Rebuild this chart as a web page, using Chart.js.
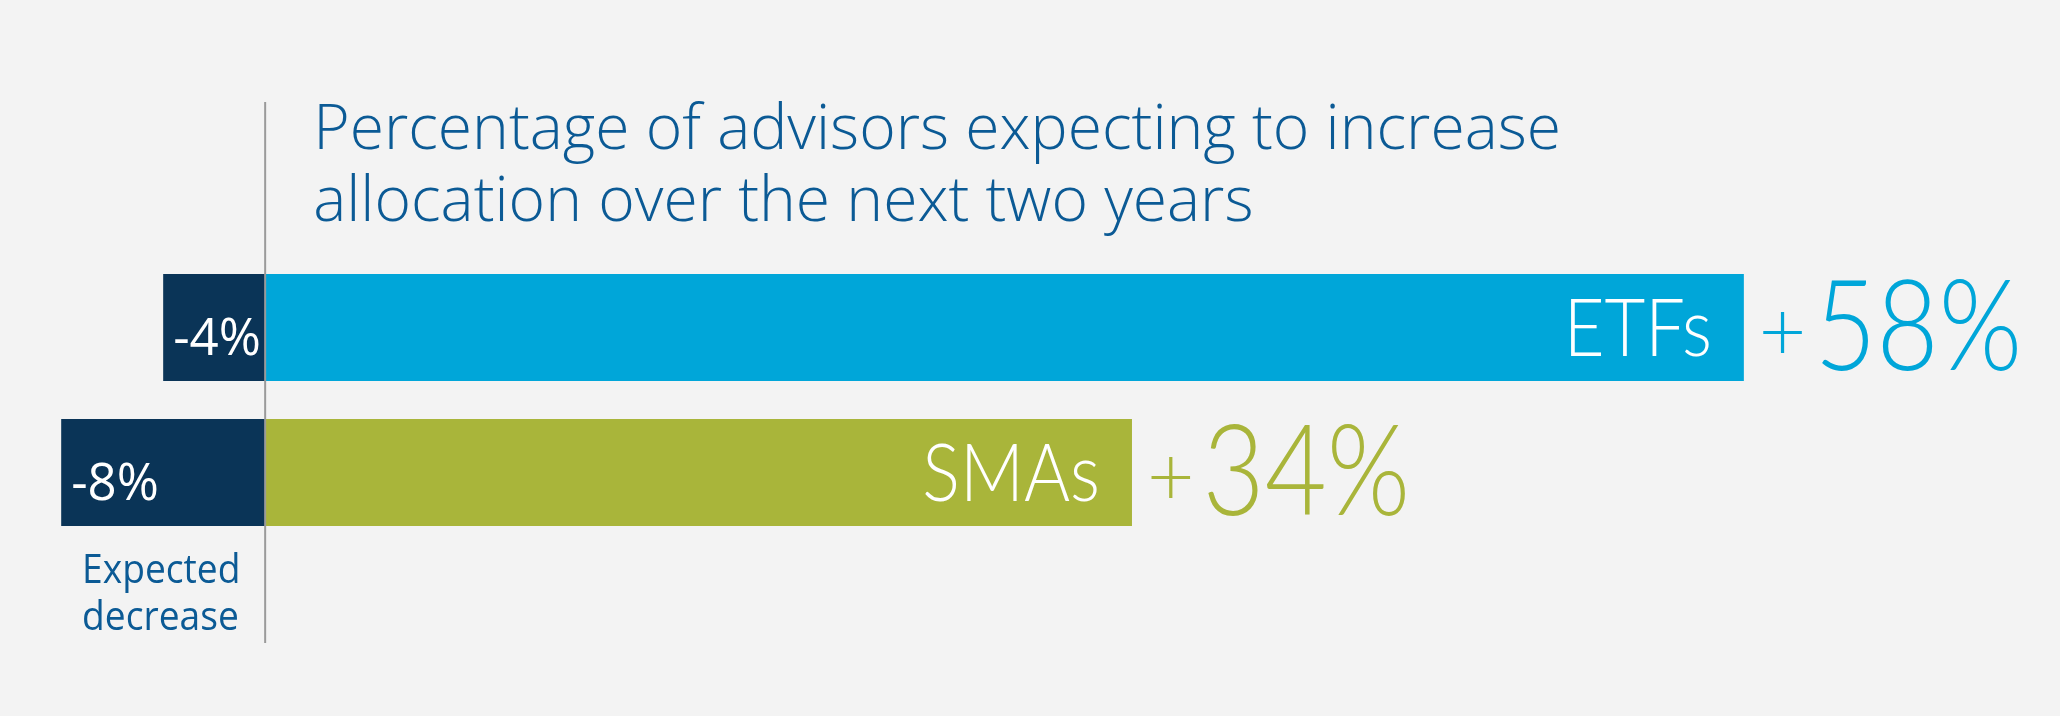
<!DOCTYPE html>
<html lang="en">
<head>
    <meta charset="UTF-8">
    <title>Advisor allocation expectations</title>
    <style>
        html, body { margin: 0; padding: 0; background: #f3f3f3; }
        #wrap { width: 2060px; height: 716px; }
    </style>
</head>
<body>
    <div id="wrap"><canvas id="myChart" width="2060" height="716"></canvas></div>

    <script src="https://cdn.jsdelivr.net/npm/chart.js@4.4.1/dist/chart.umd.min.js"></script>
    <script>
        // chart data
        var categories = ['ETFs', 'SMAs'];
        var increaseValues = [58, 34];
        var decreaseValues = [-4, -8];
        var increaseColors = ['#00a6d9', '#a9b53a'];
        var decreaseColor = '#0a3457';
        var titleLines = ['Percentage of advisors expecting to increase', 'allocation over the next two years'];
        var decreaseNote = ['Expected', 'decrease'];

        var titleBlue = '#0b5a95';
        var humanist = '"Open Sans", "Noto Sans", sans-serif';
        var geometric = 'Lato, "Open Sans", sans-serif';

        // draw text squeezed horizontally by sx
        function drawText(ctx, str, x, y, font, color, align, sx) {
            ctx.save();
            ctx.font = font;
            ctx.fillStyle = color;
            ctx.textAlign = align;
            ctx.textBaseline = 'alphabetic';
            ctx.translate(x, y);
            ctx.scale(sx, 1);
            ctx.fillText(str, 0, 0);
            ctx.restore();
        }

        function textWidth(ctx, str, font, sx) {
            ctx.save();
            ctx.font = font;
            var w = ctx.measureText(str).width * sx;
            ctx.restore();
            return w;
        }

        var background = {
            id: 'background',
            beforeDraw: function (chart) {
                var ctx = chart.ctx;
                ctx.save();
                ctx.fillStyle = '#f3f3f3';
                ctx.fillRect(0, 0, chart.width, chart.height);
                ctx.restore();
            }
        };

        var annotations = {
            id: 'annotations',
            afterDatasetsDraw: function (chart) {
                var ctx = chart.ctx;
                var zeroX = chart.scales.x.getPixelForValue(0);

                // zero line
                ctx.save();
                ctx.strokeStyle = '#9a9a9a';
                ctx.lineWidth = 2;
                ctx.beginPath();
                ctx.moveTo(zeroX, 102);
                ctx.lineTo(zeroX, 643);
                ctx.stroke();
                ctx.restore();

                // title
                titleLines.forEach(function (line, i) {
                    drawText(ctx, line, zeroX + 48, 149 + i * 72, '300 63px ' + humanist, titleBlue, 'left', 0.99);
                });

                // note under the decrease bars
                decreaseNote.forEach(function (line, i) {
                    drawText(ctx, line, 82, 583 + i * 47, '400 40px ' + humanist, titleBlue, 'left', 0.93);
                });

                var decMeta = chart.getDatasetMeta(0);
                var incMeta = chart.getDatasetMeta(1);

                decMeta.data.forEach(function (bar, i) {
                    var left = Math.min(bar.x, bar.base);
                    drawText(ctx, decreaseValues[i] + '%', left + 10, bar.y + 27, '400 51px ' + humanist, '#ffffff', 'left', 1);
                });

                incMeta.data.forEach(function (bar, i) {
                    var right = Math.max(bar.x, bar.base);
                    drawText(ctx, categories[i], right - 32, bar.y + 28, '300 80px ' + geometric, '#ffffff', 'right', 0.88);

                    var plusFont = '300 82px ' + geometric;
                    var plusX = right + 15;
                    drawText(ctx, '+', plusX, bar.y + 32, plusFont, increaseColors[i], 'left', 1);
                    var numX = plusX + textWidth(ctx, '+', plusFont, 1) + 8;
                    drawText(ctx, increaseValues[i] + '%', numX, bar.y + 42, '300 126px ' + geometric, increaseColors[i], 'left', 0.85);
                });
            }
        };

        var ctx = document.getElementById('myChart').getContext('2d');
        var myChart = new Chart(ctx, {
            type: 'bar',
            data: {
                labels: categories,
                datasets: [
                    {
                        label: 'Expected decrease',
                        data: decreaseValues,
                        backgroundColor: decreaseColor
                    },
                    {
                        label: 'Expected increase',
                        data: increaseValues,
                        backgroundColor: increaseColors
                    }
                ]
            },
            options: {
                indexAxis: 'y',
                responsive: false,
                animation: false,
                devicePixelRatio: 1,
                layout: { padding: { top: 255, bottom: 171, left: 0, right: 0 } },
                datasets: {
                    bar: { barPercentage: 0.738, categoryPercentage: 1.0, borderWidth: 0 }
                },
                scales: {
                    x: { type: 'linear', min: -10.4, max: 70.4, stacked: true, display: false },
                    y: { type: 'category', stacked: true, display: false }
                },
                plugins: {
                    legend: { display: false },
                    tooltip: { enabled: false },
                    title: { display: false }
                }
            },
            plugins: [background, annotations]
        });
    </script>
</body>
</html>
